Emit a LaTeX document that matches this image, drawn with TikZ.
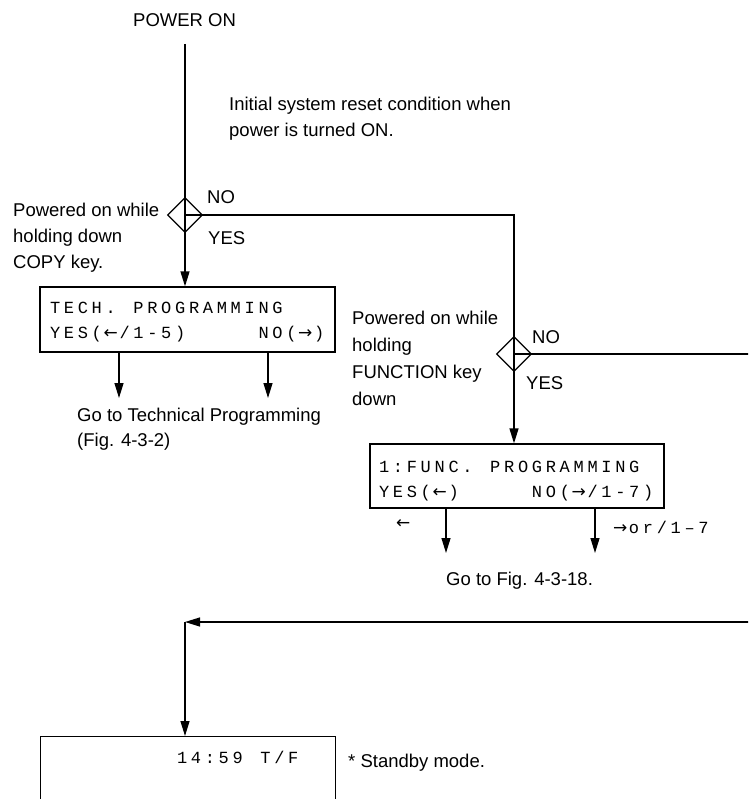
\documentclass[tikz,border=0pt]{standalone}
\usepackage{fontspec}
\setmainfont{Liberation Sans}
\newfontfamily\lcdfont{Liberation Mono}
\newfontfamily\arrfont{DejaVu Sans}
\newcommand{\lar}{{\arrfont ←}}
\newcommand{\rar}{{\arrfont →}}
\makeatletter
\def\lcd@sp{_}
\newcommand{\lcdline}[1]{\@tfor\lcd@c:=#1\do{\makebox[13.9pt][c]{\ifx\lcd@c\lcd@sp\else\lcd@c\fi}}}
\makeatother
\usetikzlibrary{arrows.meta,shapes.geometric}
\tikzset{
  txt/.style={inner sep=0pt, anchor=base west, font=\fontsize{18.5}{22}\selectfont},
  lcd/.style={inner sep=0pt, anchor=base west, font=\lcdfont\fontsize{17}{20}\selectfont},
  ln/.style={line width=1.3pt},
  arr/.style={ln, -{Triangle[length=15pt,width=9pt]}},
  dec/.style={draw, ln, diamond, inner sep=0pt, minimum width=35pt, minimum height=35pt},
  panel/.style={draw, ln, rectangle, inner sep=0pt}
}
\begin{document}
\begin{tikzpicture}[x=1pt,y=-1pt]
\clip (0,0) rectangle (748,799);
\fill[white] (0,0) rectangle (748,799);
% top
\node[txt] (power) at (133,27) {POWER ON};
\coordinate (p0) at (185,44);
\node[txt] (init1) at (229,111) {Initial system reset condition when};
\node[txt] (init2) at (229,137) {power is turned ON.};
% decision 1
\node[dec] (d1) at (185,215) {};
\node[txt] (no1) at (207,204) {NO};
\node[txt] (yes1) at (208,244) {YES};
\node[txt] (c1) at (13,217) {Powered on while};
\node[txt] (c2) at (13,243) {holding down};
\node[txt] (c3) at (13,269) {COPY key.};
% box 1
\node[panel, minimum width=295pt, minimum height=65pt] (box1) at (187.5,319.5) {};
\node[lcd] (b1l1) at (48,313) {\lcdline{TECH._PROGRAMMING}};
\node[lcd] (b1l2) at (48,338) {\lcdline{YES(\lar/1-5)_____NO(\rar)}};
\coordinate (g1a) at (119,398);
\coordinate (g1b) at (268,398);
\node[txt] (go1) at (77,421) {Go to Technical Programming};
\node[txt] (go1b) at (77,446) {(Fig. 4-3-2)};
% decision 2
\node[dec] (d2) at (514,354) {};
\node[txt] (no2) at (532,343) {NO};
\node[txt] (yes2) at (526,389) {YES};
\node[txt] (f1) at (352,324) {Powered on while};
\node[txt] (f2) at (352,351) {holding};
\node[txt] (f3) at (352,378) {FUNCTION key};
\node[txt] (f4) at (352,405) {down};
\coordinate (r1) at (752,354);
% box 2
\node[panel, minimum width=294pt, minimum height=64pt] (box2) at (517,476) {};
\node[lcd] (b2l1) at (377,472) {\lcdline{1:FUNC._PROGRAMMING}};
\node[lcd] (b2l2) at (377,497) {\lcdline{YES(\lar)_____NO(\rar/1-7)}};
\coordinate (g2a) at (446,553);
\coordinate (g2b) at (595,553);
\node[lcd] (la) at (396,528) {\lar};
\node[lcd] (lb) at (613,533) {\lcdline{\rar or/1–7}};
\node[txt] (go2) at (446,585) {Go to Fig. 4-3-18.};
% return
\coordinate (r2) at (752,622);
\coordinate (corner) at (185,622);
% box 3
\node[panel, minimum width=295pt, minimum height=120pt, anchor=north west] (box3) at (40,736) {};
\node[lcd] (b3l1) at (175,763) {\lcdline{14:59_T/F}};
\node[txt] (sb) at (348,767) {* Standby mode.};
% connectors
\draw[ln] (p0) -- (d1.center);
\draw[arr] (d1.center) -- (d1.center |- box1.north);
\draw[ln] (d1.center) -- (d1.center -| d2.center) -- (d2.center);
\draw[arr] (d2.center) -- (d2.center |- box2.north);
\draw[ln] (d2.center) -- (r1);
\draw[arr] (g1a |- box1.south) -- (g1a);
\draw[arr] (g1b |- box1.south) -- (g1b);
\draw[arr] (g2a |- box2.south) -- (g2a);
\draw[arr] (g2b |- box2.south) -- (g2b);
\draw[arr] (r2) -- (corner);
\draw[arr] (corner) -- (box3.north -| corner);
\end{tikzpicture}
\end{document}
